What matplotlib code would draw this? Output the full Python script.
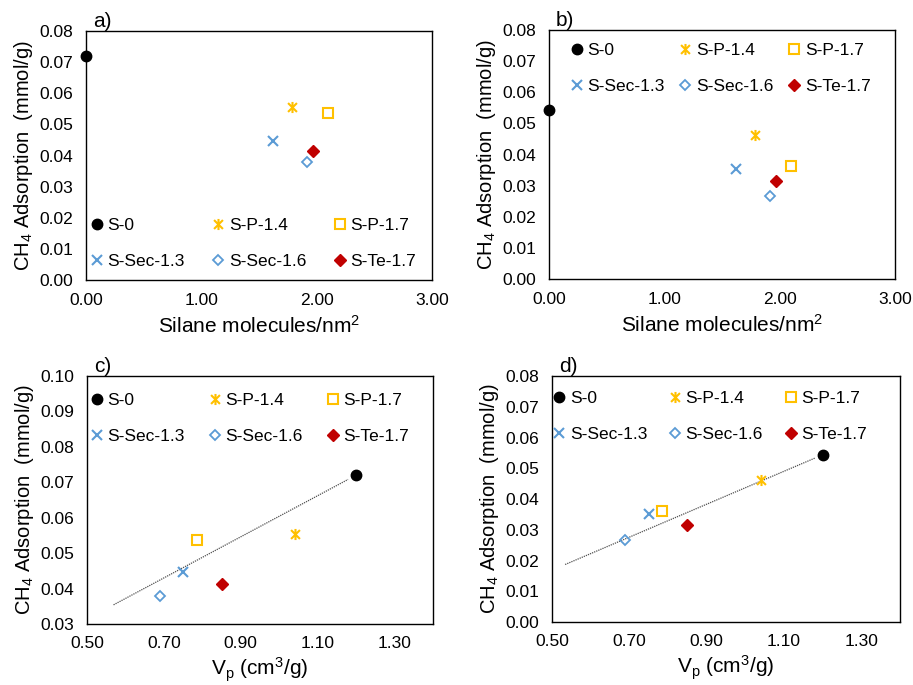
import matplotlib
matplotlib.use('Agg')
import matplotlib.pyplot as plt
from matplotlib.path import Path
from matplotlib.ticker import FormatStrFormatter, MultipleLocator

plt.rcParams['font.family'] = ['Liberation Sans', 'DejaVu Sans']
plt.rcParams['mathtext.fontset'] = 'custom'
plt.rcParams['mathtext.rm'] = 'Liberation Sans'
plt.rcParams['mathtext.it'] = 'Liberation Sans:italic'
plt.rcParams['mathtext.default'] = 'regular'

# samples
samples = ['S-0', 'S-P-1.4', 'S-P-1.7', 'S-Sec-1.3', 'S-Sec-1.6', 'S-Te-1.7']
silane = [0.00, 1.79, 2.10, 1.62, 1.92, 1.97]      # molecules/nm2
vp = [1.20, 1.04, 0.785, 0.75, 0.69, 0.85]          # cm3/g
ads_1 = [0.0720, 0.0555, 0.0538, 0.0448, 0.0379, 0.0413]  # panels a, c
ads_2 = [0.0542, 0.0463, 0.0362, 0.0352, 0.0268, 0.0316]  # panels b, d

trend_c_x = [0.569, 1.179]
trend_c_y = [0.0354, 0.0708]
trend_d_x = [0.534, 1.180]
trend_d_y = [0.0187, 0.0533]

gold = '#FFC000'
blue = '#5B9BD5'
red = '#C00000'

star = Path([(-1, -1), (1, 1), (-1, 1), (1, -1), (0, -1.25), (0, 1.25)],
            [Path.MOVETO, Path.LINETO, Path.MOVETO, Path.LINETO, Path.MOVETO, Path.LINETO])

styles = [
    dict(marker='o', color='black', ms=7.5, mfc='black', mew=1),
    dict(marker=star, color=gold, ms=8, mfc='none', mew=1.5),
    dict(marker='s', color=gold, ms=7, mfc='none', mew=1.5),
    dict(marker='x', color=blue, ms=7.5, mfc='none', mew=1.5),
    dict(marker='D', color=blue, ms=5.5, mfc='none', mew=1.3),
    dict(marker='D', color=red, ms=6, mfc=red, mew=1),
]

fig = plt.figure(figsize=(9.13, 6.85), dpi=100)
ax_a = fig.add_axes([0.0942, 0.5912, 0.379, 0.3635])
ax_b = fig.add_axes([0.6013, 0.5927, 0.379, 0.3635])
ax_c = fig.add_axes([0.0953, 0.0891, 0.379, 0.362])
ax_d = fig.add_axes([0.6046, 0.0920, 0.381, 0.359])


def draw(ax, xs, ys, tag):
    for i in range(len(samples)):
        ax.plot(xs[i], ys[i], linestyle='none', label=samples[i], clip_on=False, **styles[i])
    ax.tick_params(length=0, labelsize=12.5, pad=9)
    ax.yaxis.set_major_formatter(FormatStrFormatter('%.2f'))
    ax.xaxis.set_major_formatter(FormatStrFormatter('%.2f'))
    for s in ax.spines.values():
        s.set_linewidth(1.0)
    ax.set_ylabel('CH$_4$ Adsorption  (mmol/g)', fontsize=14.5, labelpad=3)
    ax.text(0.02, 1.0, tag, transform=ax.transAxes, fontsize=15, va='bottom', ha='left')


def add_legend(ax, loc, anchor, colsp):
    h, l = ax.get_legend_handles_labels()
    order = [0, 3, 1, 4, 2, 5]
    ax.legend([h[k] for k in order], [l[k] for k in order], ncol=3, loc=loc,
              bbox_to_anchor=anchor, frameon=False, fontsize=12.5, handlelength=0.8,
              handletextpad=0.2, columnspacing=colsp, labelspacing=1.2,
              borderpad=0, borderaxespad=0)


for ax, ys, tag in [(ax_a, ads_1, 'a)'), (ax_b, ads_2, 'b)')]:
    draw(ax, silane, ys, tag)
    ax.set_xlim(0, 3)
    ax.set_ylim(0, 0.08)
    ax.xaxis.set_major_locator(MultipleLocator(1))
    ax.yaxis.set_major_locator(MultipleLocator(0.01))
    ax.set_xlabel('Silane molecules/nm$^2$', fontsize=15, labelpad=5)

draw(ax_c, vp, ads_1, 'c)')
ax_c.plot(trend_c_x, trend_c_y, color='#505050', lw=0.9, linestyle=(0, (1, 0.8)), zorder=1)
ax_c.set_xlim(0.5, 1.4)
ax_c.set_ylim(0.03, 0.10)
ax_c.set_xticks([0.5, 0.7, 0.9, 1.1, 1.3])
ax_c.yaxis.set_major_locator(MultipleLocator(0.01))
ax_c.set_xlabel('V$_p$ (cm$^3$/g)', fontsize=15, labelpad=3)

draw(ax_d, vp, ads_2, 'd)')
ax_d.plot(trend_d_x, trend_d_y, color='#505050', lw=0.9, linestyle=(0, (1, 0.8)), zorder=1)
ax_d.set_xlim(0.5, 1.4)
ax_d.set_ylim(0, 0.08)
ax_d.set_xticks([0.5, 0.7, 0.9, 1.1, 1.3])
ax_d.yaxis.set_major_locator(MultipleLocator(0.01))
ax_d.set_xlabel('V$_p$ (cm$^3$/g)', fontsize=15, labelpad=3)

add_legend(ax_a, 'lower left', (0.012, 0.045), 1.53)
add_legend(ax_b, 'upper left', (0.06, 0.949), 0.81)
add_legend(ax_c, 'upper left', (0.009, 0.931), 1.33)
add_legend(ax_d, 'upper left', (0.001, 0.939), 1.21)

fig.savefig('out.png', dpi=100)
